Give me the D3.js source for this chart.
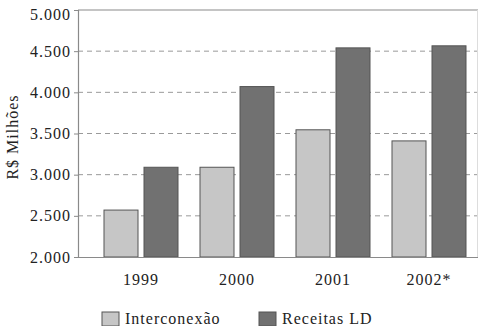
<!DOCTYPE html>
<html>
<head>
<meta charset="utf-8">
<script src="https://cdn.jsdelivr.net/npm/d3@7/dist/d3.min.js"></script>
<style>
  html, body { margin: 0; padding: 0; background: #fff; }
  svg { display: block; }
</style>
</head>
<body>
<svg id="chart" width="479" height="326"></svg>
<script>
// Revenue per year, R$ millions
const years = ["1999", "2000", "2001", "2002*"];
const interconexao = [2570, 3090, 3545, 3410];
const receitasLD = [3090, 4070, 4540, 4565];
const seriesNames = ["Interconexão", "Receitas LD"];
const seriesColors = ["#c6c6c6", "#717171"];
const yTicks = [2000, 2500, 3000, 3500, 4000, 4500, 5000];

const FONT = "'Liberation Serif', 'Times New Roman', serif";
const styleText = sel => sel
  .style("font-family", FONT)
  .style("font-size", "16px")
  .style("letter-spacing", "1px")
  .attr("fill", "#222");

const svg = d3.select("#chart");
const plot = { left: 78, right: 478, top: 10, bottom: 257 };

const x0 = d3.scaleBand()
  .domain(years)
  .range([93, 477])
  .paddingInner(22 / 96)
  .paddingOuter(11 / 96);

const x1 = d3.scaleBand()
  .domain(seriesNames)
  .range([0, x0.bandwidth()])
  .paddingInner(6 / 40);

const y = d3.scaleLinear()
  .domain([2000, 5000])
  .range([plot.bottom, plot.top]);

// thousands separated with a dot
const fmt = d => d3.format(",")(d).replace(/,/g, ".");

// dashed gridlines
svg.append("g")
  .selectAll("line")
  .data(yTicks.filter(t => t > 2000 && t < 5000))
  .join("line")
  .attr("x1", plot.left)
  .attr("x2", plot.right)
  .attr("y1", d => y(d))
  .attr("y2", d => y(d))
  .attr("stroke", "#9a9a9a")
  .attr("stroke-width", 1)
  .attr("stroke-dasharray", "5,4");

// frame: top and right edges
svg.append("line")
  .attr("x1", plot.left).attr("x2", plot.right)
  .attr("y1", y(5000)).attr("y2", y(5000))
  .attr("stroke", "#8a8a8a").attr("stroke-width", 1.2);
svg.append("line")
  .attr("x1", plot.right - 0.5).attr("x2", plot.right - 0.5)
  .attr("y1", y(5000)).attr("y2", plot.bottom)
  .attr("stroke", "#dddddd").attr("stroke-width", 1);

// bars
const rows = years.map((yr, i) => ({ year: yr, values: [interconexao[i], receitasLD[i]] }));
const groups = svg.append("g")
  .selectAll("g")
  .data(rows)
  .join("g")
  .attr("transform", d => `translate(${x0(d.year)},0)`);

groups.selectAll("rect")
  .data(d => d.values.map((v, k) => ({ name: seriesNames[k], value: v, color: seriesColors[k] })))
  .join("rect")
  .attr("x", d => x1(d.name))
  .attr("width", x1.bandwidth())
  .attr("y", d => y(d.value))
  .attr("height", d => y(2000) - y(d.value))
  .attr("fill", d => d.color)
  .attr("stroke", "#555")
  .attr("stroke-width", 1);

// y axis
const yAxis = svg.append("g")
  .attr("transform", `translate(${plot.left},0)`)
  .call(d3.axisLeft(y).tickValues(yTicks).tickSize(4).tickPadding(3).tickFormat(fmt));
yAxis.select(".domain").attr("stroke", "#8a8a8a").attr("stroke-width", 1.2);
yAxis.selectAll(".tick line").attr("stroke", "#8a8a8a");
yAxis.selectAll(".tick text").call(styleText);
// top label sits just below the frame edge
yAxis.selectAll(".tick text").filter(d => d === 5000).attr("y", 4);

// x axis
const xAxis = svg.append("g")
  .attr("transform", `translate(0,${plot.bottom})`)
  .call(d3.axisBottom(x0).tickSize(0).tickPadding(17));
xAxis.select(".domain").attr("stroke", "#8a8a8a").attr("stroke-width", 1.2)
  .attr("d", `M${plot.left},0.5H${plot.right}`);
xAxis.selectAll(".tick text").call(styleText);

// y axis title
svg.append("text")
  .attr("transform", `translate(18,137) rotate(-90)`)
  .attr("text-anchor", "middle")
  .call(styleText)
  .text("R$ Milhões");

// legend
const legendX = [102, 259];
const legend = svg.append("g")
  .selectAll("g")
  .data(seriesNames)
  .join("g")
  .attr("transform", (d, i) => `translate(${legendX[i]},312)`);
legend.append("rect")
  .attr("width", 17).attr("height", 14)
  .attr("fill", (d, i) => seriesColors[i])
  .attr("stroke", "#555");
legend.append("text")
  .attr("x", 23).attr("y", 12)
  .call(styleText)
  .text(d => d);
</script>
</body>
</html>
